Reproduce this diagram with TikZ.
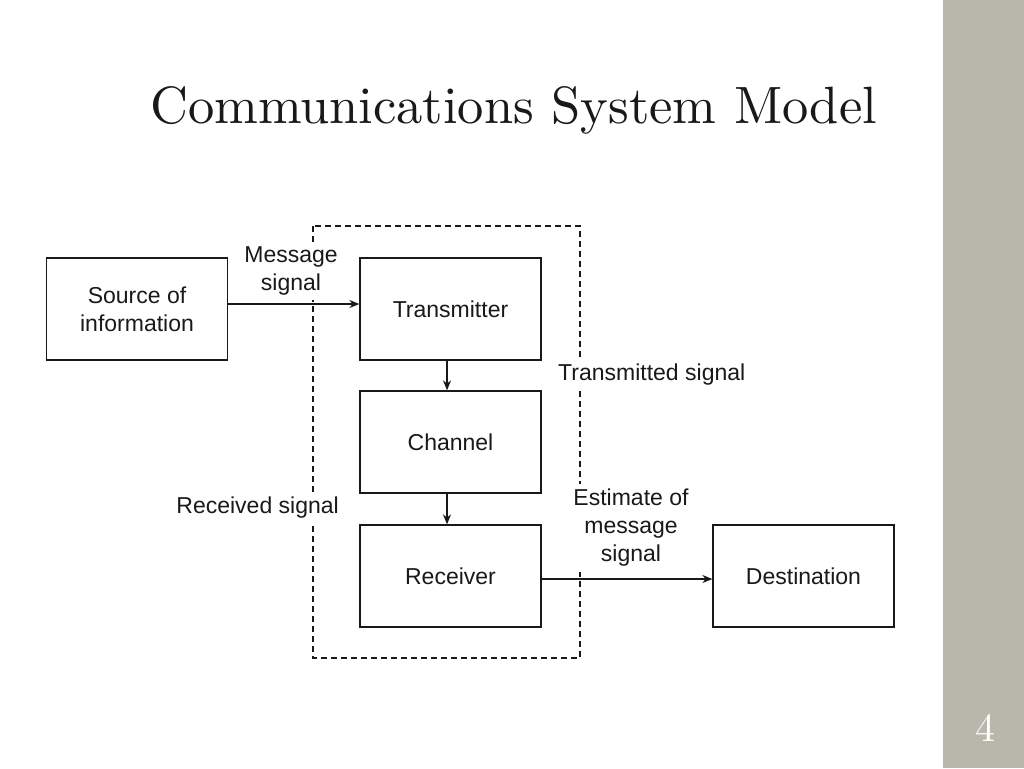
\documentclass[tikz,border=0pt]{standalone}
\usepackage{fontspec}
\newfontfamily\diafont{Liberation Sans}
\newfontfamily\titlefont{lmroman10-regular.otf}
\usetikzlibrary{arrows.meta}
\definecolor{sidegray}{RGB}{185,182,171}
\definecolor{ink}{RGB}{25,25,25}
\begin{document}
\begin{tikzpicture}[x=1pt,y=-1pt,
  box/.style={draw=ink,line width=1.3pt,minimum width=181pt,minimum height=102pt,inner sep=0pt,font=\diafont\fontsize{23}{28}\selectfont,text=ink,align=center},
  lbl/.style={font=\diafont\fontsize{23}{28}\selectfont,text=ink,align=center,fill=white,inner xsep=2pt,inner ysep=5pt},
  conn/.style={draw=ink,line width=1.3pt,-{Stealth[length=10pt,width=8pt]}},
  dash box/.style={draw=ink,line width=1.2pt,dash pattern=on 6pt off 4pt}]
\useasboundingbox (0,0) rectangle (1024,768);
\fill[white] (0,0) rectangle (1024,768);
\fill[sidegray] (943,0) rectangle (1024,768);
\node[text=white,font=\titlefont\fontsize{40}{44}\selectfont] (pg) at (985,728) {4};
\node[font=\titlefont\fontsize{52.5}{60}\selectfont,text=ink,anchor=west,inner sep=0pt] (title) at (150,110) {Communications System Model};
% dashed system boundary
\draw[dash box] (313,226) rectangle (580,658);
% blocks
\node[box] (src) at (137,309) {Source of\\information};
\node[box] (tx) at (450.5,309) {Transmitter};
\node[box] (ch) at (450.5,442) {Channel};
\node[box] (rx) at (450.5,576) {Receiver};
\node[box] (dst) at (803.5,576) {Destination};
% labels (white text boxes hide the dashed line behind them)
\node[lbl] (lm) at (291,271) {Message\\signal};
\node[lbl,anchor=west] (lt) at (556,375) {Transmitted signal};
\node[lbl,anchor=east] (lr) at (341,508) {Received signal};
\node[lbl] (le) at (631,528) {Estimate of\\message\\signal};
% connectors
\draw[conn] (src.east |- 0,304) -- (tx.west |- 0,304);
\draw[conn] (tx.south -| 447,0) -- (ch.north -| 447,0);
\draw[conn] (ch.south -| 447,0) -- (rx.north -| 447,0);
\draw[conn] (rx.east |- 0,579) -- (dst.west |- 0,579);
\end{tikzpicture}
\end{document}
